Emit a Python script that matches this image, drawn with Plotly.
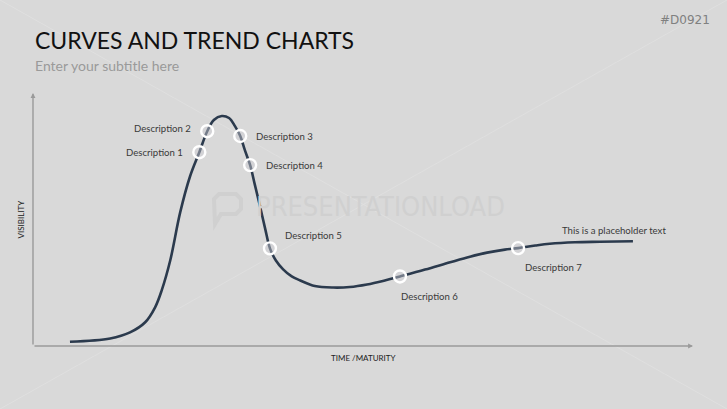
import plotly.graph_objects as go

# ---- data (time/maturity 0-100, visibility 0-100) ----
curve_x = [5.6, 11.7, 14.7, 17.0, 18.5, 19.5, 20.8, 22.3, 23.8, 25.2, 26.4, 27.4, 28.6, 29.7,
           30.6, 31.4, 32.1, 32.9, 33.6, 34.4, 35.2, 35.9, 36.8, 37.9, 39.2, 40.5, 42.7, 45.5,
           48.0, 50.6, 53.3, 55.6, 59.4, 63.2, 66.2, 68.8, 71.5, 73.5, 76.1, 78.3, 82.1, 85.9, 90.9]
curve_y = [1.7, 3.0, 5.4, 9.4, 15.3, 22.0, 33.9, 52.8, 67.1, 76.6, 84.9, 89.3, 90.9, 90.1,
           86.9, 83.0, 77.4, 71.5, 63.9, 55.2, 46.1, 38.6, 33.8, 30.3, 27.5, 25.9, 23.7, 23.1,
           23.3, 24.3, 25.9, 27.5, 30.2, 33.1, 35.3, 36.9, 38.1, 38.7, 39.7, 40.4, 41.0, 41.2, 41.4]

point_labels = ["Description 1", "Description 2", "Description 3", "Description 4",
                "Description 5", "Description 6", "Description 7"]
point_x = [25.2, 26.4, 31.4, 32.9, 35.9, 55.6, 73.5]
point_y = [76.6, 84.9, 83.0, 71.5, 38.6, 27.5, 38.7]

end_label = "This is a placeholder text"
x_title = "TIME /MATURITY"
y_title = "VISIBILITY"
title = "CURVES AND TREND CHARTS"
subtitle = "Enter your subtitle here"
code = "#D0921"
watermark = "PRESENTATIONLOAD"

# ---- styles ----
BG = "#d9d9d9"
LINE = "#2b3a4d"
FONT = "Lato"
W, H = 727, 409
L, R, T, B = 33, 34, 93, 63
PW, PH = W - L - R, H - T - B


def px2paper(x, y):
    return (x - L) / PW, (H - B - y) / PH


# label placement: (xanchor, xshift, yshift)
label_style = [("right", -14, 0), ("right", -14, 3), ("left", 14, 0), ("left", 14, 0),
               ("left", 13, 13), ("left", -1, -20), ("left", 5, -19)]

fig = go.Figure()

# faint background diagonals (full page corners)
for (a, b) in [((0, 0), (W, H)), ((W, 0), (0, H))]:
    x0, y0 = px2paper(*a)
    x1, y1 = px2paper(*b)
    fig.add_shape(type="line", xref="paper", yref="paper", x0=x0, y0=y0, x1=x1, y1=y1,
                  line=dict(color="#dfdfdf", width=1), layer="below")

# watermark speech-bubble icon
icon = [(219, 194), (236, 194), (241, 199), (241, 209), (236, 214), (221, 214), (215, 224),
        (214, 199), (219, 194)]
pts = [px2paper(x, y) for x, y in icon]
path = "M " + " L ".join(f"{x:.4f},{y:.4f}" for x, y in pts) + " Z"
fig.add_shape(type="path", xref="paper", yref="paper", path=path,
              line=dict(color="#d0d0d0", width=4), layer="below")

fig.add_trace(go.Scatter(x=curve_x, y=curve_y, mode="lines",
                         line=dict(color=LINE, width=2.6, shape="spline", smoothing=1.0),
                         hoverinfo="skip", showlegend=False))
fig.add_trace(go.Scatter(x=point_x, y=point_y, mode="markers",
                         marker=dict(size=12, color="rgba(205,205,210,0.45)",
                                     line=dict(color="white", width=2.4)),
                         text=point_labels, hoverinfo="text", showlegend=False))

ann = []
for lbl, px, py, (xa, xs, ys) in zip(point_labels, point_x, point_y, label_style):
    ann.append(dict(x=px, y=py, xref="x", yref="y", text=lbl, showarrow=False,
                    xanchor=xa, yanchor="middle", xshift=xs, yshift=ys,
                    font=dict(family=FONT, size=9.6, color="#3a3a3a")))
ann.append(dict(x=curve_x[-1], y=curve_y[-1], xref="x", yref="y", text=end_label,
                showarrow=False, xanchor="center", yanchor="middle", xshift=-19, yshift=11,
                font=dict(family=FONT, size=9.6, color="#3a3a3a")))

# axes with arrows
ann.append(dict(x=100, y=0, ax=0, ay=0, xref="x", yref="y", axref="x", ayref="y",
                text="", showarrow=True, arrowhead=2, arrowsize=0.7, arrowwidth=1.4,
                arrowcolor="#9a9a9a"))
ann.append(dict(x=0, y=100, ax=0, ay=0, xref="x", yref="y", axref="x", ayref="y",
                text="", showarrow=True, arrowhead=2, arrowsize=0.7, arrowwidth=1.4,
                arrowcolor="#9a9a9a"))
ann.append(dict(x=50, y=0, xref="x", yref="y", text=x_title, showarrow=False,
                yanchor="middle", yshift=-12, font=dict(family=FONT, size=8, color="#222")))
ann.append(dict(x=0, y=50, xref="x", yref="y", text=y_title, showarrow=False, textangle=-90,
                xanchor="center", xshift=-13, font=dict(family=FONT, size=8, color="#222")))

# titles (pixel positions, converted below)
pix = []
pix.append(dict(x=33, y=40, text=title, xanchor="left",
                font=dict(family=FONT, size=23, color="#111")))
pix.append(dict(x=33, y=66, text=subtitle, xanchor="left",
                font=dict(family=FONT, size=14, color="#9a9a9a")))
pix.append(dict(x=712, y=20, text=code, xanchor="right",
                font=dict(family="DejaVu Sans", size=12, color="#808080")))
pix.append(dict(x=381, y=206, text=watermark, xanchor="center",
                font=dict(family="DejaVu Sans Condensed, Roboto", size=27, color="#d0d0d0")))
for a in pix:
    xx, yy = px2paper(a["x"], a["y"])
    a.update(xref="paper", yref="paper", showarrow=False, yanchor="middle", x=xx, y=yy)
    ann.append(a)

fig.update_layout(
    width=W, height=H, paper_bgcolor=BG, plot_bgcolor=BG,
    margin=dict(l=L, r=R, t=T, b=B),
    xaxis=dict(range=[0, 100], visible=False, fixedrange=True),
    yaxis=dict(range=[0, 100], visible=False, fixedrange=True),
    annotations=ann, showlegend=False,
)
fig.write_html("out.html", config={"displayModeBar": False},
               post_script="document.body.style.margin='0';document.body.style.overflow='hidden';")
